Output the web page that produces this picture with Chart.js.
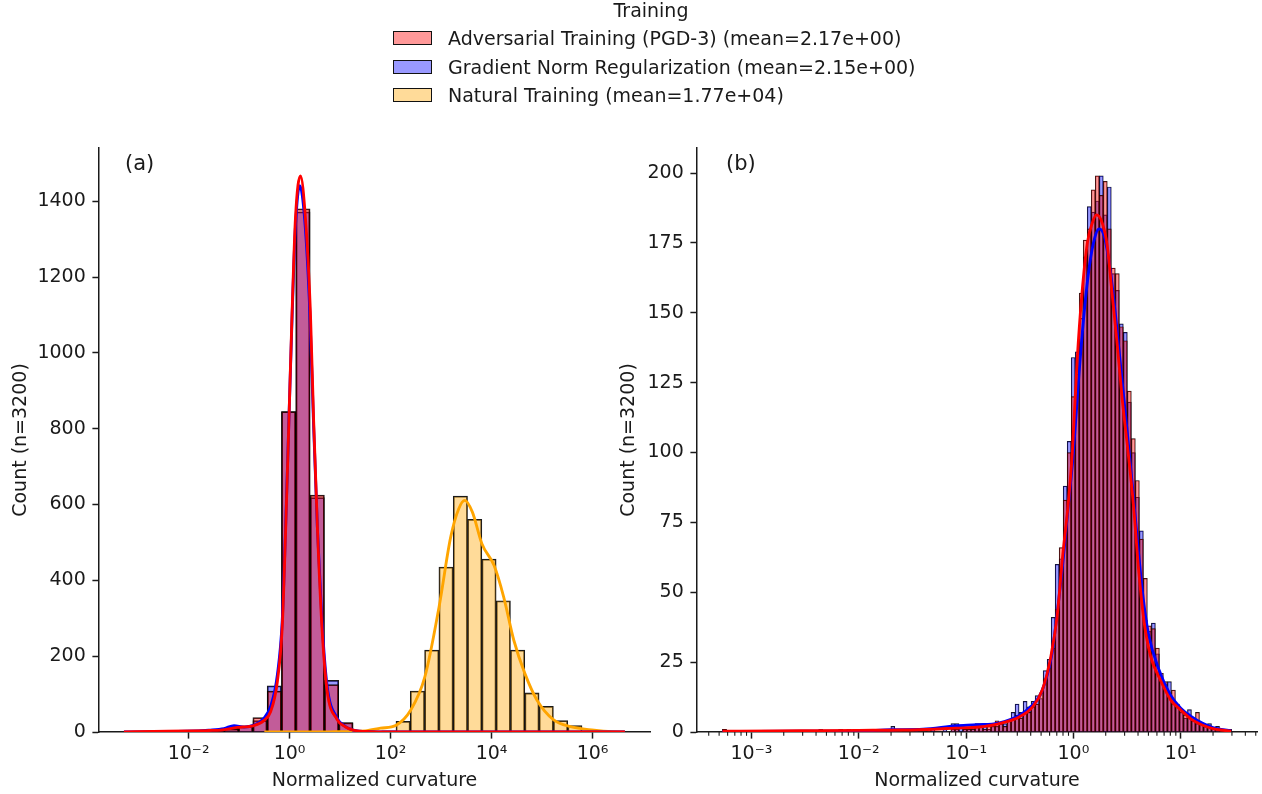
<!DOCTYPE html>
<html>
<head>
<meta charset="utf-8">
<script src="https://cdn.jsdelivr.net/npm/chart.js@4.4.1/dist/chart.umd.min.js"></script>
<style>
  html, body { margin: 0; padding: 0; background: #fff; }
  body { width: 1262px; height: 794px; position: relative; overflow: hidden; font-family: "DejaVu Sans", sans-serif; color: #1a1a1a; }
  #ca { position: absolute; left: 0; top: 0; }
  #cb { position: absolute; left: 600px; top: 0; }
  .lg-title { position: absolute; left: 551px; width: 200px; text-align: center; top: -1px; font-size: 19px; line-height: 22px; }
  .lg-patch { position: absolute; left: 393px; width: 39px; height: 14px; box-sizing: border-box; border: 1.5px solid #111; }
  .lg-text { position: absolute; left: 448px; font-size: 19px; line-height: 22px; white-space: nowrap; }
  .panel { position: absolute; font-size: 21px; line-height: 24px; }
</style>
</head>
<body>
<canvas id="ca" width="660" height="794"></canvas>
<canvas id="cb" width="662" height="794"></canvas>

<div class="lg-title">Training</div>
<div class="lg-patch" style="top:31px;background:#ff9999"></div>
<div class="lg-text" style="top:27px">Adversarial Training (PGD-3) (mean=2.17e+00)</div>
<div class="lg-patch" style="top:59.5px;background:#9999ff"></div>
<div class="lg-text" style="top:55.5px">Gradient Norm Regularization (mean=2.15e+00)</div>
<div class="lg-patch" style="top:88px;background:#ffdb99"></div>
<div class="lg-text" style="top:84px">Natural Training (mean=1.77e+04)</div>
<div class="panel" style="left:125px;top:151px">(a)</div>
<div class="panel" style="left:726px;top:151px">(b)</div>

<script>
// ---------- tick values ----------
const xTicksA = [-2, 0, 2, 4, 6];
const yTicksA = [0, 200, 400, 600, 800, 1000, 1200, 1400];
const xTicksB = [-3, -2, -1, 0, 1];
const yTicksB = [0, 25, 50, 75, 100, 125, 150, 175, 200];
const minorFactorsB = [2, 3, 4, 5, 6, 7, 8, 9];

// ---------- panel (a): histogram bins in log10 space ----------
const binStartA = -3.278;
const binWidthA = 0.2834;
const advA = [0,0,1,2,2,3,3,8,14,38, 108,845,1380,625,125,25,2,0,0,0, 0,0,0,0,0,0,0,0,0,0, 0,0,0,0,0];
const gnrA = [0,0,1,2,2,3,4,10,16,30, 122,845,1372,618,136,24,2,0,0,0, 0,0,0,0,0,0,0,0,0,0, 0,0,0,0,0];
const natA = [0,0,0,0,0,0,0,0,0,0, 0,0,0,0,0,0,0,1,3,28, 108,216,435,622,561,456,346,216,103,68, 30,17,3,1,0];

// KDE curves (a): [log10 curvature, count]
const kdeAdvA = [[-3.28,0.5],[-2.69,1.7],[-2.03,2.6],[-1.6,4],[-1.366,5],[-1.036,12],[-0.707,17],[-0.51,30],[-0.374,54],[-0.243,132],[-0.145,279],[-0.08,524],[-0.014,818],[0.051,1112],[0.117,1357],[0.215,1467],[0.313,1357],[0.411,1112],[0.477,818],[0.555,524],[0.64,279],[0.739,113],[0.935,34],[1.1,14],[1.26,5],[1.59,1],[2.2,0],[6.64,0]];
const kdeGnrA = [[-3.28,0.3],[-2.69,1],[-2.03,2],[-1.6,5],[-1.3,9],[-1.1,17],[-0.9,13],[-0.707,18],[-0.51,36],[-0.374,68],[-0.243,150],[-0.145,295],[-0.08,535],[-0.014,820],[0.051,1100],[0.117,1335],[0.202,1441],[0.30,1350],[0.40,1110],[0.47,830],[0.55,540],[0.64,295],[0.74,125],[0.935,38],[1.1,15],[1.26,5],[1.59,1],[2.2,0],[6.64,0]];
const kdeNatA = [[-0.5,0],[0.8,0.5],[1.5,3],[1.8,10],[2.11,18],[2.40,58],[2.68,146],[2.96,330],[3.19,514],[3.35,589],[3.47,611],[3.62,580],[3.81,496],[4.05,439],[4.24,356],[4.44,242],[4.66,154],[4.90,84],[5.23,32],[5.56,14],[6.03,5],[6.4,1],[6.64,0.3]];

// ---------- panel (b) ----------
const binStartB = -3.27;
const binWidthB = 0.03735;
const advB = [
  1,0,0,0,0,0,0,0,0,0,
  0,0,0,0,0,0,0,0,0,0,
  0,0,0,0,1,0,0,0,0,1,
  0,1,0,0,1,0,0,0,0,0,
  0,0,0,0,1,0,0,0,0,0,
  0,1,0,0,0,0,0,1,1,0,
  1,1,1,2,2,1,2,3,4,3,
  2,4,5,6,5,7,7,9,10,14,
  19,23,30,44,66,83,100,120,128,157,
  176,180,194,199,192,197,180,166,164,145,
  140,122,105,90,69,55,38,37,30,21,
  18,14,15,9,8,6,5,4,7,3,
  2,2,1,1,1,0,1];
const gnrB = [
  1,0,0,0,0,0,0,0,0,0,
  0,0,0,0,0,0,0,0,0,0,
  0,0,0,0,0,0,0,0,0,1,
  0,0,0,1,0,0,0,1,0,0,
  0,0,2,0,0,0,0,0,1,0,
  0,0,1,0,0,1,0,3,3,2,
  1,1,2,3,3,2,1,2,2,3,
  3,4,7,10,7,11,9,11,13,12,
  22,26,41,60,62,88,104,134,136,148,
  170,188,186,190,199,185,195,164,158,146,
  143,118,100,84,72,40,36,39,28,19,
  17,18,10,10,7,5,8,4,3,3,
  2,3,1,2,0,1,1];
const kdeAdvB = [[-3.27,0.3],[-2.8,0.4],[-2.4,0.5],[-2.0,0.6],[-1.6,0.7],[-1.3,1.0],[-1.1,1.4],[-0.88,1.8],[-0.69,3],[-0.5,5.5],[-0.38,9],[-0.29,15],[-0.21,27],[-0.15,42],[-0.10,63],[-0.05,81],[-0.01,100],[0.035,133],[0.08,157],[0.13,175],[0.175,182],[0.215,185],[0.27,182],[0.315,174],[0.36,157],[0.41,138],[0.455,119],[0.51,100],[0.56,81],[0.61,57],[0.66,39],[0.72,27],[0.81,18.6],[0.907,11.4],[1.0,7.9],[1.1,4.5],[1.2,2.5],[1.3,1.2],[1.47,0.3]];
const kdeGnrB = [[-3.27,0.2],[-2.5,0.3],[-2.0,0.4],[-1.7,0.8],[-1.4,1.0],[-1.1,2.2],[-0.9,2.6],[-0.7,3.2],[-0.5,6],[-0.4,9],[-0.3,14],[-0.2,28],[-0.15,43],[-0.1,60],[-0.05,80],[0.0,100],[0.05,127],[0.1,150],[0.15,167],[0.2,177],[0.24,180],[0.29,177],[0.34,166],[0.39,150],[0.44,131],[0.5,108],[0.55,88],[0.6,67],[0.65,48],[0.7,35],[0.8,22],[0.9,13.5],[1.0,8.5],[1.1,5.5],[1.2,3.2],[1.3,1.6],[1.47,0.4]];

// ---------- helpers ----------
const INK = '#1a1a1a';
Chart.defaults.font.family = "'DejaVu Sans', sans-serif";
Chart.defaults.color = INK;

const SUP = {'-':'\u207B','0':'\u2070','1':'\u00B9','2':'\u00B2','3':'\u00B3','4':'\u2074','5':'\u2075','6':'\u2076','7':'\u2077','8':'\u2078','9':'\u2079'};
const pow10Label = v => '10' + String(Math.round(v)).split('').map(c => SUP[c]).join('');

const toBars = (vals, start, w) => vals.map((v, k) => ({ x: start + w * (k + 0.5), y: v }));
const toPts = arr => arr.map(([x, y]) => ({ x, y }));

function barSet(vals, start, w, fill, bw, order) {
  return { type: 'bar', data: toBars(vals, start, w), backgroundColor: fill,
    borderColor: 'rgba(0,0,0,0.9)', borderWidth: bw, barPercentage: 1, categoryPercentage: 1,
    grouped: false, order };
}
function lineSet(pts, color, order) {
  return { type: 'line', data: toPts(pts), borderColor: color, borderWidth: 2.85, pointRadius: 0,
    fill: false, cubicInterpolationMode: 'monotone', order };
}
function maxOf(list) { return Math.max(...list); }

const minorTicks = {
  id: 'minorTicks',
  afterDraw(chart, args, opts) {
    if (!opts || !opts.factors) return;
    const s = chart.scales.x, ctx = chart.ctx;
    ctx.save(); ctx.strokeStyle = INK; ctx.lineWidth = 1.1;
    for (let d = Math.floor(s.min); d <= Math.ceil(s.max); d++) {
      for (const f of opts.factors) {
        const v = d + Math.log10(f);
        if (v < s.min || v > s.max) continue;
        const px = s.getPixelForValue(v);
        ctx.beginPath(); ctx.moveTo(px, s.top); ctx.lineTo(px, s.top + 3.8); ctx.stroke();
      }
    }
    ctx.restore();
  }
};

function makeOptions(xr, yMax, xt, yt, yWidth, yTitlePad, padRight, factors) {
  const gridOpts = { drawOnChartArea: false, drawTicks: true, offset: false, tickLength: 6.6, tickWidth: 1.5, tickColor: INK };
  const borderOpts = { display: true, color: INK, width: 1.5 };
  return {
    responsive: false, animation: false, devicePixelRatio: 1, events: [],
    layout: { padding: { left: 0, right: padRight, top: 148, bottom: 0 } },
    plugins: { legend: { display: false }, tooltip: { enabled: false }, minorTicks: { factors } },
    scales: {
      x: {
        type: 'linear', min: xr[0], max: xr[1], offset: false,
        afterBuildTicks: s => { s.ticks = xt.map(v => ({ value: v })); },
        afterFit: s => { s.height = 62; },
        grid: gridOpts, border: borderOpts,
        ticks: { color: INK, font: { size: 19 }, padding: 3.6, maxRotation: 0, autoSkip: false, callback: v => pow10Label(v) },
        title: { display: true, text: 'Normalized curvature', color: INK, font: { size: 19, lineHeight: 1 }, padding: { top: 0, bottom: 3.5 } }
      },
      y: {
        type: 'linear', min: 0, max: yMax, offset: false,
        afterBuildTicks: s => { s.ticks = yt.map(v => ({ value: v })); },
        afterFit: s => { s.width = yWidth; },
        grid: gridOpts, border: borderOpts,
        ticks: { color: INK, font: { size: 19 }, padding: 6.6, callback: v => String(v) },
        title: { display: true, text: 'Count (n=3200)', color: INK, font: { size: 19, lineHeight: 1 }, padding: { top: yTitlePad, bottom: 0 } }
      }
    }
  };
}

// ---------- chart (a) ----------
const endA = binStartA + binWidthA * advA.length;
const marA = 0.05 * (endA - binStartA);
const yMaxA = 1.05 * maxOf([...advA, ...gnrA, ...natA, ...kdeAdvA.map(p => p[1]), ...kdeGnrA.map(p => p[1]), ...kdeNatA.map(p => p[1])]);
new Chart(document.getElementById('ca'), {
  type: 'bar',
  data: { datasets: [
    lineSet(kdeAdvA, '#ff0000', 0),
    lineSet(kdeGnrA, '#0000ff', 1),
    lineSet(kdeNatA, '#ffa500', 2),
    barSet(advA, binStartA, binWidthA, 'rgba(255,0,0,0.4)', 1.1, 3),
    barSet(gnrA, binStartA, binWidthA, 'rgba(0,0,255,0.4)', 1.1, 4),
    barSet(natA, binStartA, binWidthA, 'rgba(255,165,0,0.4)', 1.1, 5)
  ] },
  options: makeOptions([binStartA - marA, endA + marA], yMaxA, xTicksA, yTicksA, 99, 11.5, 10, null),
  plugins: [minorTicks]
});

// ---------- chart (b) ----------
const endB = binStartB + binWidthB * advB.length;
const marB = 0.05 * (endB - binStartB);
const yMaxB = 1.05 * maxOf([...advB, ...gnrB, ...kdeAdvB.map(p => p[1]), ...kdeGnrB.map(p => p[1])]);
new Chart(document.getElementById('cb'), {
  type: 'bar',
  data: { datasets: [
    lineSet(kdeAdvB, '#ff0000', 0),
    lineSet(kdeGnrB, '#0000ff', 1),
    barSet(advB, binStartB, binWidthB, 'rgba(255,0,0,0.4)', 0.55, 3),
    barSet(gnrB, binStartB, binWidthB, 'rgba(0,0,255,0.4)', 0.55, 4)
  ] },
  options: makeOptions([binStartB - marB, endB + marB], yMaxB, xTicksB, yTicksB, 97, 19.5, 5, minorFactorsB),
  plugins: [minorTicks]
});
</script>
</body>
</html>
